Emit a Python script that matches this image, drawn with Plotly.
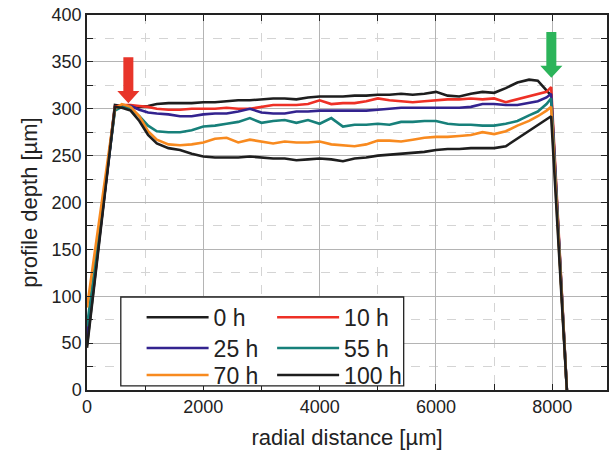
import plotly.graph_objects as go

# radial positions (µm) shared by all profiles
radial_um = [0, 480, 600, 750, 900, 1050, 1200, 1400, 1600, 1800, 2000, 2200, 2400,
             2600, 2800, 3000, 3200, 3400, 3600, 3800, 4000, 4200, 4400, 4600, 4800,
             5000, 5200, 5400, 5600, 5800, 6000, 6200, 6400, 6600, 6800, 7000, 7200,
             7400, 7600, 7750, 7900, 7980, 8250]

# profile depth (µm) after each exposure time
depth_0h = [48, 304, 303, 303, 302, 303, 305, 306, 306, 306, 307, 307, 308,
            309, 309, 310, 311, 311, 310, 312, 313, 313, 313, 314, 314,
            315, 315, 316, 315, 316, 318, 314, 313, 316, 318, 317, 322,
            328, 331, 330, 320, 314, 0]
depth_10h = [58, 302, 304, 304, 303, 302, 300, 299, 299, 300, 300, 300, 301,
             300, 300, 302, 304, 304, 304, 305, 309, 305, 306, 306, 308,
             311, 309, 308, 307, 308, 309, 310, 310, 311, 310, 311, 307,
             310, 313, 315, 318, 323, 0]
depth_25h = [55, 300, 302, 303, 299, 296, 295, 294, 292, 292, 294, 295, 295,
             297, 300, 296, 295, 295, 297, 297, 298, 298, 298, 298, 298,
             299, 300, 301, 301, 301, 301, 301, 301, 302, 305, 305, 304,
             304, 306, 308, 312, 316, 0]
depth_55h = [68, 298, 302, 300, 292, 282, 276, 275, 275, 277, 281, 282, 284,
             286, 290, 285, 287, 288, 285, 288, 284, 290, 281, 283, 283,
             284, 283, 286, 286, 287, 287, 284, 283, 283, 282, 282, 284,
             287, 293, 297, 305, 311, 0]
depth_70h = [88, 300, 305, 302, 292, 276, 267, 262, 261, 262, 264, 268, 269,
             264, 267, 265, 263, 265, 264, 264, 265, 262, 261, 260, 262,
             266, 266, 265, 267, 269, 270, 270, 271, 272, 275, 273, 276,
             282, 287, 292, 298, 302, 0]
depth_100h = [45, 302, 301, 298, 287, 272, 263, 258, 256, 252, 249, 248, 248,
              248, 249, 248, 247, 247, 245, 246, 247, 246, 244, 247, 248,
              250, 251, 252, 253, 254, 256, 257, 257, 258, 258, 258, 260,
              268, 276, 282, 288, 292, 0]

series_names = ["0 h", "10 h", "25 h", "55 h", "70 h", "100 h"]
series_depths = [depth_0h, depth_10h, depth_25h, depth_55h, depth_70h, depth_100h]
series_colors = ["#1e1e1e", "#ee3026", "#33238f", "#17807a", "#f88a1f", "#1e1e1e"]

FONT = "Liberation Sans, Arial, sans-serif"
INK = "#222222"

# legend laid out as a 2-column x 3-row grid, one legend slot per series
legend_ids = ["legend", "legend2", "legend3", "legend4", "legend5", "legend6"]
legend_cols_x = [0.105, 0.356]
legend_rows_y = [0.194, 0.112, 0.040]

fig = go.Figure()
for name, depth, color, leg in zip(series_names, series_depths, series_colors, legend_ids):
    fig.add_trace(go.Scatter(
        x=radial_um, y=depth, name=name, mode="lines", legend=leg,
        line=dict(color=color, width=2.6), cliponaxis=True,
    ))


def block_arrow(x_tip, y_tip, color):
    """Downward block arrow whose tip sits at (x_tip, y_tip) in data units."""
    shaft_hw, head_hw = 86, 190          # half widths along x (µm)
    head_len, total_len = 13, 49         # lengths along y (µm)
    pts = [
        (x_tip - shaft_hw, y_tip + total_len),
        (x_tip + shaft_hw, y_tip + total_len),
        (x_tip + shaft_hw, y_tip + head_len),
        (x_tip + head_hw, y_tip + head_len),
        (x_tip, y_tip),
        (x_tip - head_hw, y_tip + head_len),
        (x_tip - shaft_hw, y_tip + head_len),
    ]
    path = "M " + " L ".join(f"{px},{py}" for px, py in pts) + " Z"
    return dict(type="path", path=path, xref="x", yref="y",
                fillcolor=color, line=dict(width=0), layer="above")


# frame around the legend grid
legend_box = dict(type="rect", xref="paper", yref="paper",
                  x0=0.065, x1=0.609, y0=0.011, y1=0.248,
                  fillcolor="white", line=dict(color=INK, width=1.3), layer="above")

legend_layout = {}
for i, leg in enumerate(legend_ids):
    legend_layout[leg] = dict(
        x=legend_cols_x[i % 2], y=legend_rows_y[i // 2],
        xanchor="left", yanchor="middle", orientation="v",
        bgcolor="rgba(0,0,0,0)", borderwidth=0,
        font=dict(family=FONT, size=23, color=INK),
        itemwidth=62,
    )

fig.update_layout(
    shapes=[legend_box, block_arrow(711, 306, "#e8352a"), block_arrow(7983, 333, "#2cb45a")],
    width=611, height=452,
    margin=dict(l=87, r=2, t=15, b=62),
    paper_bgcolor="white", plot_bgcolor="white",
    font=dict(family=FONT, color=INK, size=18),
    showlegend=True,
    **legend_layout,
)

axis_common = dict(
    showline=True, linecolor=INK, linewidth=1.5, mirror="ticks",
    ticks="inside", ticklen=6, tickwidth=1.3, tickcolor=INK,
    showgrid=True, gridcolor="#b4b4b4", gridwidth=1.2, zeroline=False,
    tickfont=dict(family=FONT, size=18, color=INK),
)

fig.update_xaxes(
    range=[0, 8940], dtick=2000, tick0=0,
    title=dict(text="radial distance [µm]", font=dict(family=FONT, size=22, color=INK), standoff=13),
    minor=dict(dtick=1000, ticks="inside", ticklen=6, tickcolor=INK,
               showgrid=True, gridcolor="#d4d4d4", griddash="dash", gridwidth=1),
    **axis_common,
)
fig.update_yaxes(
    range=[0, 400], dtick=50, tick0=0,
    title=dict(text="profile depth [µm]", font=dict(family=FONT, size=22, color=INK), standoff=8),
    minor=dict(dtick=25, ticks="inside", ticklen=6, tickcolor=INK,
               showgrid=True, gridcolor="#d4d4d4", griddash="dash", gridwidth=1),
    **axis_common,
)

fig.write_html("out.html")
